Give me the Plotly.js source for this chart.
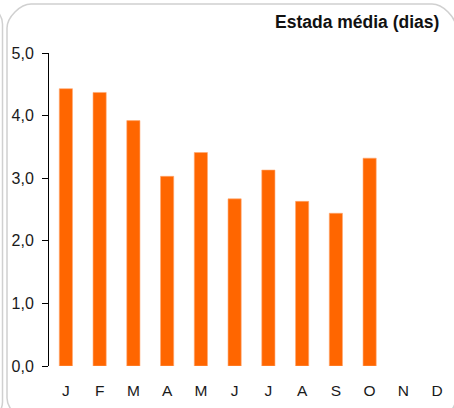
<!DOCTYPE html>
<html>
<head>
<meta charset="utf-8">
<script src="https://cdn.plot.ly/plotly-3.0.1.min.js"></script>
<style>html,body{margin:0;padding:0;background:#fff;}#chart{width:454px;height:408px;}</style>
</head>
<body>
<div id="chart"></div>
<script>
const months = ["J","F","M","A","M","J","J","A","S","O","N","D"];
const monthKeys = ["jan","fev","mar","abr","mai","jun","jul","ago","set","out","nov","dez"];
const estadaMedia = [4.43, 4.37, 3.92, 3.03, 3.41, 2.67, 3.13, 2.63, 2.44, 3.32, null, null];
const yTicks = [0, 1, 2, 3, 4, 5];
const chartTitle = "Estada média (dias)";

const W = 454, H = 408;
const L = 49, R = 0, T = 53, B = 42;
const pw = W - L - R, ph = H - T - B;
function px(x){ return ((x - L) / pw).toFixed(4); }
function py(y){ return ((H - B - y) / ph).toFixed(4); }
function roundRect(x0, y0, x1, y1, r){
  const k = 0.45 * r;
  return "M " + px(x0) + "," + py(y0 + r) +
    " C " + px(x0) + "," + py(y0 + r - k) + " " + px(x0 + r - k) + "," + py(y0) + " " + px(x0 + r) + "," + py(y0) +
    " L " + px(x1 - r) + "," + py(y0) +
    " C " + px(x1 - r + k) + "," + py(y0) + " " + px(x1) + "," + py(y0 + r - k) + " " + px(x1) + "," + py(y0 + r) +
    " L " + px(x1) + "," + py(y1 - r) +
    " C " + px(x1) + "," + py(y1 - r + k) + " " + px(x1 - r + k) + "," + py(y1) + " " + px(x1 - r) + "," + py(y1) +
    " L " + px(x0 + r) + "," + py(y1) +
    " C " + px(x0 + r - k) + "," + py(y1) + " " + px(x0) + "," + py(y1 - r + k) + " " + px(x0) + "," + py(y1 - r) + " Z";
}

const trace = {
  type: "bar",
  x: monthKeys,
  y: estadaMedia,
  width: 0.39,
  marker: {color: "#FF6600", line: {color: "#FFA770", width: 0.6}},
  hoverinfo: "y"
};

const layout = {
  width: W, height: H,
  margin: {l: L, r: R, t: T, b: B, pad: 0},
  paper_bgcolor: "rgba(0,0,0,0)",
  plot_bgcolor: "rgba(0,0,0,0)",
  separators: ",.",
  showlegend: false,
  font: {family: "Liberation Sans, Arial, sans-serif", color: "#1a1a1a", size: 15},
  xaxis: {
    type: "category",
    tickmode: "array", tickvals: monthKeys, ticktext: months,
    range: [-0.5, 11.5],
    showline: false, showgrid: false, zeroline: false,
    ticks: "", ticklabelstandoff: 13,
    tickfont: {size: 15.5, color: "#1a1a1a"},
    fixedrange: true
  },
  yaxis: {
    range: [0, 5],
    tickmode: "array", tickvals: yTicks,
    tickformat: ".1f",
    showline: true, linecolor: "#000", linewidth: 1,
    showgrid: false, zeroline: false,
    ticks: "outside", ticklen: 6, tickcolor: "#000", tickwidth: 1,
    ticklabelstandoff: 5,
    tickfont: {size: 16, color: "#1a1a1a"},
    fixedrange: true
  },
  annotations: [{
    text: "<b>" + chartTitle + "</b>",
    xref: "paper", yref: "paper",
    x: px(441), y: py(22),
    xanchor: "right", yanchor: "middle",
    showarrow: false,
    font: {size: 17.5, color: "#111"}
  }],
  shapes: [
    {type: "path", xref: "paper", yref: "paper", layer: "below",
     path: roundRect(7, 4, 456, 422, 24),
     line: {color: "#d0d0d0", width: 1.5}, fillcolor: "rgba(0,0,0,0)"},
    {type: "path", xref: "paper", yref: "paper", layer: "below",
     path: roundRect(-60, 0, 2.5, 426, 24),
     line: {color: "#d0d0d0", width: 1.5}, fillcolor: "rgba(0,0,0,0)"}
  ]
};

Plotly.newPlot("chart", [trace], layout, {displayModeBar: false, staticPlot: true});
</script>
</body>
</html>
